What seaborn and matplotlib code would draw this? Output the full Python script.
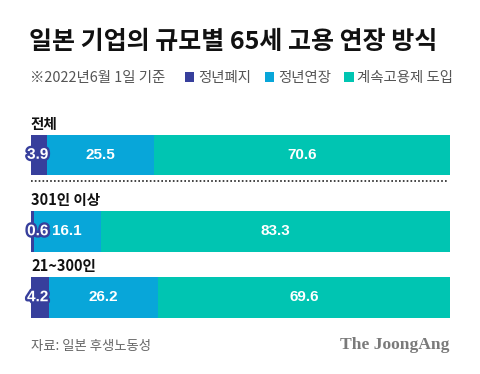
import matplotlib
matplotlib.use("Agg")
import matplotlib.pyplot as plt
import matplotlib.patheffects as pe
from matplotlib.patches import Patch
import numpy as np
import pandas as pd
import seaborn as sns

sns.set_theme(style="white")
plt.rcParams["font.family"] = ["Noto Sans CJK KR", "DejaVu Sans"]

# data
groups = ["전체", "301인 이상", "21~300인"]
series = ["정년폐지", "정년연장", "계속고용제 도입"]
abolish = [3.9, 0.6, 4.2]
extend = [25.5, 16.1, 26.2]
continued = [70.6, 83.3, 69.6]
colors = ["#373f9c", "#08a6d9", "#00c5b2"]

title = "일본 기업의 규모별 65세 고용 연장 방식"
subtitle = "※2022년6월 1일 기준"
source = "자료: 일본 후생노동성"

W, H = 480, 374
fig = plt.figure(figsize=(W / 100, H / 100), dpi=100)


def fx(px):
    return px / W


def fy(px):
    return 1 - px / H


fig.text(fx(29), fy(42), title, fontsize=18, fontweight="heavy", color="#111111",
         va="center", ha="left")
fig.text(fx(30), fy(78), subtitle, fontsize=10.4, color="#555555", va="center", ha="left")

handles = [Patch(facecolor=c, edgecolor="none") for c in colors]
leg = fig.legend(handles, series, loc="center left", bbox_to_anchor=(fx(185), fy(78)),
                 ncol=3, frameon=False, fontsize=10.4, handlelength=0.65, handleheight=0.65,
                 handletextpad=0.25, columnspacing=0.95, borderpad=0, borderaxespad=0)
for t in leg.get_texts():
    t.set_color("#555555")

# layout (pixels): bar top, bar height, group label y
bar_tops = [134.5, 211, 277]
bar_h = 40.5
label_ys = [124, 200, 266]
left_px, right_px = 31, 450

for i, g in enumerate(groups):
    ax = fig.add_axes([fx(left_px), fy(bar_tops[i] + bar_h), fx(right_px - left_px), bar_h / H])
    vals = [abolish[i], extend[i], continued[i]]
    cum = np.cumsum(vals)
    df = pd.DataFrame({"group": [g] * 3, "series": series, "cum": cum})
    # draw longest first so shorter cumulative bars sit on top
    for j in range(2, -1, -1):
        sns.barplot(data=df.iloc[[j]], x="cum", y="group", orient="h", color=colors[j],
                    width=1.0, saturation=1, ax=ax, linewidth=0)
    ax.set_xlim(0, 100)
    ax.set_ylim(0.5, -0.5)
    ax.axis("off")

    starts = np.concatenate([[0], cum[:-1]])
    for j, v in enumerate(vals):
        if j == 0:
            txt = ax.text(0.016, 0.5, f"{v}", transform=ax.transAxes, ha="center", va="center",
                          fontsize=11, fontweight="bold", color="white", family="Liberation Sans")
            txt.set_path_effects([pe.withStroke(linewidth=3.4, foreground=colors[0])])
            txt.set_clip_on(False)
        else:
            ax.text(starts[j] + v / 2, 0, f"{v}", ha="center", va="center",
                    fontsize=11, fontweight="bold", color="white", family="Liberation Sans")

    fig.text(fx(31), fy(label_ys[i]), g, fontsize=10.5, fontweight="bold", color="#111111",
             va="center", ha="left")

# dotted separator under the first group
fig.add_artist(plt.Line2D([fx(31), fx(448)], [fy(181), fy(181)], color="#222222",
                          linestyle=(0, (1, 1.3)), linewidth=1.2))

fig.text(fx(31), fy(346), source, fontsize=9.6, color="#666666", va="center", ha="left")
fig.text(fx(449), fy(345), "The JoongAng", fontsize=12.6, fontweight="bold", color="#7a7a7a",
         family="Liberation Serif", va="center", ha="right")

fig.savefig("out.png", dpi=100)
